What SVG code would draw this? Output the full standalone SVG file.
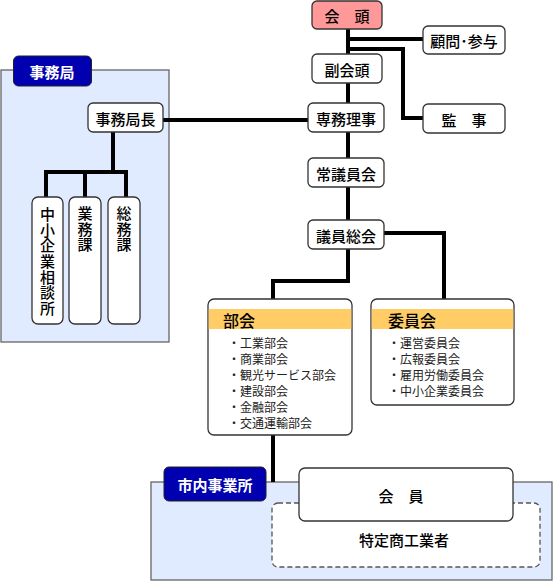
<svg xmlns="http://www.w3.org/2000/svg" width="553" height="581" viewBox="0 0 553 581">
<style>
.box{fill:#fff;stroke:#333;stroke-width:1.3}
.panel{fill:#e1ebff;stroke:#666;stroke-width:1.3}
.tab{fill:#0000b0;stroke:#222;stroke-width:1}
.t{font-family:"Noto Sans CJK JP","Noto Sans",sans-serif;font-size:15px;font-weight:500;fill:#000;text-anchor:middle;dominant-baseline:central}
.v{font-family:"Noto Sans CJK JP","Noto Sans",sans-serif;font-size:15px;font-weight:500;fill:#000;writing-mode:vertical-rl;text-anchor:start;letter-spacing:0.6px}
.tw{font-family:"Noto Sans CJK JP","Noto Sans",sans-serif;font-size:15px;font-weight:bold;fill:#fff;text-anchor:middle;dominant-baseline:central}
.h{font-family:"Noto Sans CJK JP","Noto Sans",sans-serif;font-size:16px;font-weight:500;fill:#000;dominant-baseline:central}
.i{font-family:"Noto Sans CJK JP","Noto Sans",sans-serif;font-size:12px;fill:#222;dominant-baseline:central}
.ln{fill:none;stroke:#000;stroke-width:4}
</style>
<g id="panel-jimukyoku">
<rect class="panel" x="1" y="70" width="168" height="272"/>
<rect class="tab" x="13.5" y="56" width="78" height="30" rx="5"/>
<text class="tw" x="52" y="71">事務局</text>
</g>
<g id="panel-shinai">
<rect class="panel" x="151" y="482" width="401" height="98"/>
<rect class="tab" x="164" y="467" width="102" height="34" rx="5"/>
<text class="tw" x="215" y="484">市内事業所</text>
</g>
<g id="connectors">
<path class="ln" d="M348 29V249"/>
<path class="ln" d="M348 39H423"/>
<path class="ln" d="M348 49H403V118H423"/>
<path class="ln" d="M163 120H308"/>
<path class="ln" d="M384 233H444V299"/>
<path class="ln" d="M348 249V281H273V299"/>
<path class="ln" d="M273 435V482"/>
<path class="ln" d="M113 132V172"/>
<path class="ln" d="M46 197V172H126V197"/>
<path class="ln" d="M85 172V197"/>
</g>
<g id="kaito">
<rect x="312" y="1" width="70" height="28" rx="5" fill="#ff9999" stroke="#333" stroke-width="1.3"/>
<text class="t" x="347" y="15">会　頭</text>
</g>
<g id="komon">
<rect class="box" x="423" y="26" width="82" height="28" rx="5"/>
<text class="t" x="464" y="40">顧問･参与</text>
</g>
<g id="fukukaito">
<rect class="box" x="312" y="54" width="70" height="29" rx="5"/>
<text class="t" x="347" y="69">副会頭</text>
</g>
<g id="senmu">
<rect class="box" x="308" y="103" width="76" height="29" rx="5"/>
<text class="t" x="346" y="118">専務理事</text>
</g>
<g id="kanji">
<rect class="box" x="423" y="104" width="82" height="29" rx="5"/>
<text class="t" x="464" y="119">監　事</text>
</g>
<g id="jogiinkai">
<rect class="box" x="308" y="158" width="76" height="29" rx="5"/>
<text class="t" x="346" y="173">常議員会</text>
</g>
<g id="giinsokai">
<rect class="box" x="308" y="220" width="76" height="29" rx="5"/>
<text class="t" x="346" y="235">議員総会</text>
</g>
<g id="jimukyokucho">
<rect class="box" x="88" y="103" width="75" height="29" rx="5"/>
<text class="t" x="125.5" y="118">事務局長</text>
</g>
<g id="chusho-sodan">
<rect class="box" x="32" y="197" width="31" height="127" rx="6"/>
<text class="v" x="47.5" y="207">中小企業相談所</text>
</g>
<g id="gyomuka">
<rect class="box" x="69" y="197" width="32" height="127" rx="6"/>
<text class="v" x="85" y="206">業務課</text>
</g>
<g id="somuka">
<rect class="box" x="108" y="197" width="32" height="127" rx="6"/>
<text class="v" x="124" y="206">総務課</text>
</g>
<g id="bukai">
<rect class="box" x="208" y="299" width="144" height="136" rx="6"/>
<rect x="208.7" y="309" width="142.6" height="20" fill="#ffcc66"/>
<text class="h" x="223" y="320">部会</text>
<text class="i" x="228" y="342">・工業部会</text>
<text class="i" x="228" y="358">・商業部会</text>
<text class="i" x="228" y="374">・観光サービス部会</text>
<text class="i" x="228" y="390">・建設部会</text>
<text class="i" x="228" y="406">・金融部会</text>
<text class="i" x="228" y="422">・交通運輸部会</text>
</g>
<g id="iinkai">
<rect class="box" x="371" y="299" width="143" height="106" rx="6"/>
<rect x="371.7" y="309" width="141.6" height="20" fill="#ffcc66"/>
<text class="h" x="388" y="320">委員会</text>
<text class="i" x="388" y="342">・運営委員会</text>
<text class="i" x="388" y="358">・広報委員会</text>
<text class="i" x="388" y="374">・雇用労働委員会</text>
<text class="i" x="388" y="390">・中小企業委員会</text>
</g>
<g id="tokutei">
<rect x="272" y="503" width="268" height="64" rx="6" fill="#fff" stroke="#555" stroke-width="1.3" stroke-dasharray="5,3"/>
<text class="t" x="404" y="539">特定商工業者</text>
</g>
<g id="kaiin">
<rect class="box" x="299" y="468" width="214" height="53" rx="6"/>
<text class="t" x="401" y="495">会　員</text>
</g>
</svg>
